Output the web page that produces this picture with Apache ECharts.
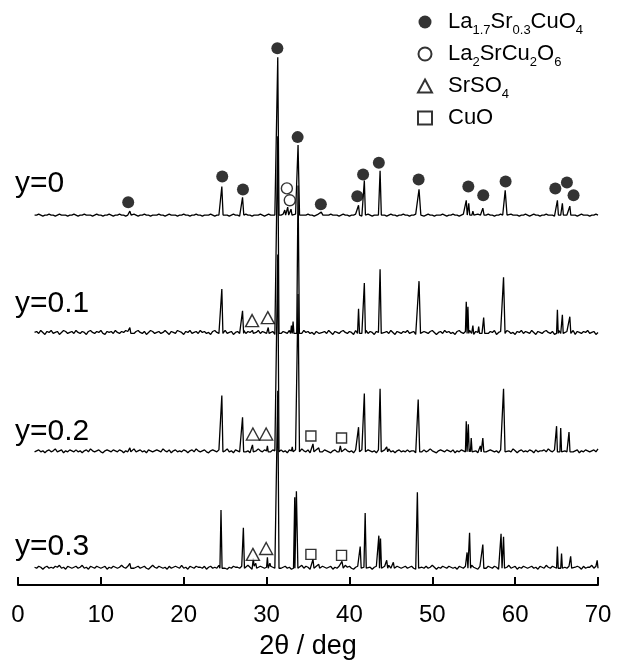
<!DOCTYPE html>
<html>
<head>
<meta charset="utf-8">
<script src="https://cdn.jsdelivr.net/npm/echarts@6/dist/echarts.min.js"></script>
<style>
html,body{margin:0;padding:0;background:#fff;}
#chart{width:618px;height:665px;}
</style>
</head>
<body>
<div id="chart"></div>
<script>
// ---- data ----
const traceLabels = ['y=0', 'y=0.1', 'y=0.2', 'y=0.3'];
// vertical offset of each pattern (intensity units)
const traceOffsets = [374, 254, 134, 16];
const xTicks = [0, 10, 20, 30, 40, 50, 60, 70];
const scanStart = 2, scanStep = 0.25;

// peaks: [2theta, height above baseline, half width at foot]
const peaks0 = [[13.5,4,0.15],[24.6,29,0.15],[27.1,18,0.15],[31.35,160,0.15],[32.2,5,0.1],[32.55,8,0.12],[32.95,6,0.12],[33.8,71,0.18],[36.6,3,0.2],[41.1,10,0.12],[41.8,35,0.13],[43.7,45,0.15],[48.4,26,0.22],[54.1,15,0.12],[54.4,12,0.12],[54.9,4,0.12],[55.7,3,0.12],[56.1,7,0.15],[58.8,25,0.22],[65.1,15,0.12],[65.7,12,0.12],[66.6,9,0.12]];
const peaks1 = [[13.5,6,0.12],[24.6,45,0.13],[27.1,23,0.13],[28.3,3,0.1],[30.2,6,0.1],[31.35,200,0.15],[33.0,8,0.1],[33.2,12,0.1],[33.8,150,0.16],[36.2,4,0.15],[41.1,25,0.12],[41.8,51,0.13],[43.7,65,0.14],[48.4,53,0.18],[54.1,32,0.1],[54.3,27,0.1],[54.9,8,0.1],[55.6,7,0.1],[56.2,16,0.13],[58.6,57,0.18],[65.1,24,0.1],[65.7,19,0.1],[66.6,17,0.12]];
const peaks2 = [[13.5,4,0.12],[24.6,57,0.13],[27.1,35,0.13],[28.3,7,0.1],[30.1,6,0.1],[31.35,200,0.15],[33.1,5,0.1],[33.8,160,0.17],[35.6,8,0.12],[36.3,4,0.12],[38.9,6,0.15],[41.1,25,0.12],[41.8,59,0.13],[43.7,64,0.14],[44.5,5,0.12],[48.3,53,0.18],[54.1,31,0.1],[54.35,28,0.1],[54.7,14,0.1],[55.8,6,0.1],[56.1,14,0.12],[58.6,64,0.18],[65.0,26,0.1],[65.5,24,0.1],[66.5,20,0.12]];
const peaks3 = [[13.5,5,0.12],[24.5,59,0.13],[27.2,41,0.13],[28.4,10,0.1],[28.7,5,0.1],[30.1,11,0.1],[30.4,5,0.1],[31.35,180,0.15],[33.4,72,0.15],[33.6,78,0.18],[35.6,9,0.12],[36.3,4,0.1],[39.1,7,0.15],[41.3,22,0.12],[41.9,56,0.13],[43.55,33,0.12],[43.75,30,0.12],[44.5,8,0.12],[45.3,6,0.12],[48.2,77,0.15],[54.2,16,0.1],[54.5,36,0.12],[56.1,24,0.12],[58.3,35,0.12],[58.6,32,0.12],[65.1,22,0.1],[65.6,15,0.1],[66.7,12,0.12],[69.9,8,0.1]];

// background counts, one per scan step
const noise0 = [1,1,2,1,0,1,1,2,1,1,0,1,2,1,1,1,0,1,1,2,
1,0,1,1,2,1,1,1,0,1,2,1,1,0,1,1,2,1,0,1,
1,2,1,1,0,1,1,1,2,1,0,1,1,2,1,1,0,1,1,1,
2,1,1,0,1,2,1,1,1,0,1,1,2,1,1,0,1,1,2,1,
1,0,1,1,1,2,1,0,1,1,2,1,1,1,0,1,2,1,1,0,
1,1,2,1,1,0,1,1,1,2,1,0,1,2,1,1,1,0,1,1,
2,1,1,0,1,1,2,1,0,1,1,1,2,1,1,0,1,2,1,1,
0,1,1,2,1,1,1,0,1,2,1,1,0,1,1,2,1,1,0,1,
1,2,1,0,1,1,1,2,1,1,0,1,2,1,1,0,1,1,2,1,
1,0,1,1,2,1,1,1,0,1,2,1,1,0,1,1,1,2,1,0,
1,1,2,1,1,0,1,2,1,1,1,0,1,1,2,1,0,1,1,2,
1,1,0,1,1,2,1,1,0,1,2,1,1,1,0,1,1,2,1,0,
1,2,1,1,0,1,1,2,1,1,1,0,1,2,1,1,0,1,1,2,
1,1,0,1,2,1,1,1,0,1,1,2,1,0,1,1,2,1,1,0];
const noise1 = [2,3,1,4,2,0,3,2,4,1,2,3,0,2,4,3,1,2,3,1,
4,2,1,3,2,0,3,4,2,1,3,2,4,1,0,3,2,3,1,4,
2,1,3,2,4,3,0,2,1,3,4,2,1,3,0,2,4,3,1,2,
3,1,2,4,2,0,3,2,1,4,3,2,0,3,2,4,1,2,3,1,
4,2,3,1,2,0,3,4,2,1,3,2,4,1,2,3,0,2,3,1,
2,4,1,3,2,0,3,2,4,1,3,2,1,4,2,3,0,2,4,1,
3,2,1,4,2,3,0,3,2,1,4,2,3,1,2,0,3,4,1,2,
3,1,4,2,0,3,2,1,3,4,2,1,3,2,0,4,2,3,1,2,
4,1,3,2,0,3,2,4,1,2,3,1,4,2,0,3,2,1,3,2,
4,1,2,3,0,2,4,1,3,2,1,3,4,2,0,2,3,1,4,2,
3,1,2,0,3,4,2,1,3,2,4,1,0,3,2,3,1,4,2,1,
3,2,4,0,2,3,1,2,4,3,1,2,0,3,2,4,1,3,2,1,
4,2,0,3,2,1,3,4,2,1,3,0,2,4,1,3,2,3,1,2,
4,0,3,2,1,3,2,4,1,2,3,0,2,4,1,3,2,1,3,2];
const noise2 = [1,2,3,1,2,0,2,3,1,2,4,1,2,3,0,2,1,3,2,1,
3,1,2,0,2,3,1,4,2,1,2,3,1,0,2,3,2,1,3,2,
1,3,2,0,2,1,3,2,4,1,2,3,1,2,0,3,2,1,2,3,
2,1,4,2,1,3,0,2,3,1,2,1,3,2,0,2,3,1,4,2,
1,2,3,1,0,2,3,2,1,3,2,1,2,4,1,2,0,3,2,1,
3,2,1,2,0,3,1,2,4,2,1,3,2,0,1,3,2,1,2,3,
1,2,0,3,2,1,3,2,1,4,2,1,3,0,2,2,3,1,2,1,
3,2,1,0,2,3,1,2,3,1,4,2,1,2,0,3,1,2,3,2,
1,3,2,1,2,0,3,2,1,3,2,4,1,2,0,2,3,1,2,1,
3,1,2,2,0,3,2,1,3,1,2,4,2,1,0,2,3,2,1,3,
2,1,3,0,2,1,3,2,1,2,4,1,3,2,0,1,2,3,1,2,
3,2,1,2,0,3,1,2,3,2,1,4,2,0,2,3,1,2,1,3,
2,0,3,1,2,2,3,1,4,2,1,3,0,2,1,3,2,1,2,3,
1,2,3,0,2,1,3,2,1,2,3,1,4,2,0,2,3,1,2,2];
const noise3 = [2,1,3,2,0,2,3,1,2,1,3,2,4,1,2,0,3,2,1,2,
3,1,2,4,1,2,0,3,2,1,3,2,1,2,3,0,2,1,3,2,
1,2,4,2,1,3,0,2,1,2,3,1,2,3,1,0,2,4,2,1,
3,2,1,2,0,3,1,2,3,2,1,4,1,2,0,3,2,1,3,2,
2,1,3,0,2,3,1,2,1,4,2,3,1,0,2,1,3,2,2,1,
3,1,2,4,2,0,3,1,2,3,2,1,2,0,3,2,1,4,2,1,
2,3,1,2,0,2,3,1,2,4,1,3,2,0,2,1,3,2,1,3,
2,1,2,3,0,2,1,3,2,1,4,2,3,1,0,2,3,1,2,2,
1,3,2,0,2,3,1,2,1,3,2,4,1,2,0,3,2,1,2,3,
1,2,3,1,0,2,3,2,1,3,1,2,4,2,0,2,1,3,2,1,
3,2,1,2,0,3,2,1,3,2,1,4,2,1,0,3,2,2,1,3,
2,1,3,2,0,2,1,3,2,4,1,2,3,0,2,1,3,2,1,2,
3,1,2,0,3,2,1,4,2,1,3,2,0,2,3,1,2,1,3,2,
1,2,3,2,0,3,1,2,2,4,1,3,2,0,2,1,3,2,3,4];

// phase markers [2theta, intensity]
const phaseNames = ['La1.7Sr0.3CuO4', 'La2SrCu2O6', 'SrSO4', 'CuO'];
const markLSCO = [[13.3,388],[24.65,414],[27.15,401],[31.3,544],[33.75,454],[36.55,386],[40.95,394],[41.65,416],[43.55,428],[48.35,411],[54.35,404],[56.15,395],[58.85,409],[64.85,402],[66.25,408],[67.05,395]];
const markLa2 = [[32.45,402],[32.8,390]];
const markSrSO4 = [[28.25,268],[30.15,271],[28.35,153],[29.95,153],[28.35,31],[29.95,37]];
const markCuO = [[35.35,151],[39.05,149],[35.35,31],[39.05,30]];

// ---- build ----
function buildTrace(offset, peaks, noise) {
  const pts = [];
  noise.forEach((n, i) => {
    const x = scanStart + i * scanStep;
    if (x > 70) return;
    if (peaks.some(p => Math.abs(x - p[0]) < p[2])) return;
    pts.push([x, offset + n]);
  });
  peaks.forEach(p => {
    pts.push([p[0] - p[2], offset + 1], [p[0], offset + 1 + p[1]], [p[0] + p[2], offset + 1]);
  });
  pts.sort((a, b) => a[0] - b[0]);
  return pts;
}
const allPeaks = [peaks0, peaks1, peaks2, peaks3];
const allNoise = [noise0, noise1, noise2, noise3];

const FONT = 'Liberation Sans, Arial, sans-serif';
const chart = echarts.init(document.getElementById('chart'), null, {renderer: 'canvas'});

const lineSeries = traceLabels.map((lab, k) => ({
  name: lab,
  type: 'line',
  data: buildTrace(traceOffsets[k], allPeaks[k], allNoise[k]),
  showSymbol: false,
  symbol: 'none',
  lineStyle: {color: '#000', width: 1.3},
  z: 2,
  silent: true,
  animation: false
}));

const markerStyle = [
  {symbol: 'circle', symbolSize: 12, itemStyle: {color: '#000', borderColor: '#000', borderWidth: 0}},
  {symbol: 'circle', symbolSize: 11, itemStyle: {color: '#fff', borderColor: '#000', borderWidth: 1.4}},
  {symbol: 'triangle', symbolSize: [13, 12], itemStyle: {color: '#fff', borderColor: '#000', borderWidth: 1.4}},
  {symbol: 'rect', symbolSize: 10, itemStyle: {color: '#fff', borderColor: '#000', borderWidth: 1.4}}
];
const markData = [markLSCO, markLa2, markSrSO4, markCuO];
const scatterSeries = phaseNames.map((nm, k) => Object.assign({
  name: nm,
  type: 'scatter',
  data: markData[k],
  z: 5,
  symbolKeepAspect: true,
  animation: false
}, markerStyle[k]));

const richName = {
  'La1.7Sr0.3CuO4': '{g|}{n|La}{s|1.7}{n|Sr}{s|0.3}{n|CuO}{s|4}',
  'La2SrCu2O6': '{g|}{n|La}{s|2}{n|SrCu}{s|2}{n|O}{s|6}',
  'SrSO4': '{g|}{n|SrSO}{s|4}',
  'CuO': '{g|}{n|CuO}'
};

// label positions for pattern names
const labelTop = [169, 289, 417, 532];

const option = {
  backgroundColor: '#fff',
  animation: false,
  grid: {left: 18, right: 20, top: 0, bottom: 72, containLabel: false},
  xAxis: {
    type: 'value', min: 0, max: 70, interval: 10,
    name: '2θ / deg', nameLocation: 'middle', nameGap: 48,
    nameTextStyle: {fontSize: 27, color: '#000', fontFamily: FONT},
    axisLine: {show: true, onZero: false, lineStyle: {color: '#000', width: 2}},
    axisTick: {show: true, inside: true, length: 8, lineStyle: {color: '#000', width: 2}},
    axisLabel: {fontSize: 24, color: '#000', margin: 18, fontFamily: FONT},
    splitLine: {show: false}
  },
  yAxis: {type: 'value', min: 0, max: 593, show: false},
  legend: {
    data: phaseNames.map((nm, k) => ({name: nm})),
    orient: 'vertical', left: 412, top: 6,
    itemGap: 6, itemWidth: 14, itemHeight: 13,
    symbolKeepAspect: true,
    selectedMode: false,
    formatter: name => richName[name],
    textStyle: {
      color: '#000', fontFamily: FONT, fontSize: 22,
      rich: {
        g: {width: 11},
        n: {fontSize: 22, fontFamily: FONT, color: '#000', lineHeight: 25, verticalAlign: 'middle'},
        s: {fontSize: 13, fontFamily: FONT, color: '#000', lineHeight: 30, verticalAlign: 'bottom'}
      }
    }
  },
  graphic: traceLabels.map((lab, k) => ({
    type: 'text', left: 15, top: labelTop[k],
    style: {text: lab, fontSize: 30, fontFamily: FONT, fill: '#000'}
  })),
  series: lineSeries.concat(scatterSeries)
};
chart.setOption(option);
</script>
</body>
</html>
